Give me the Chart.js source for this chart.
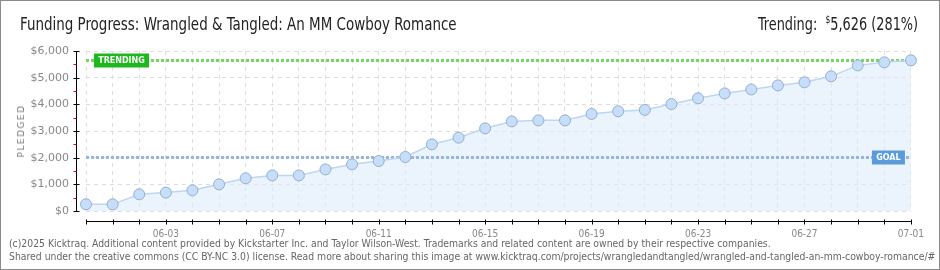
<!DOCTYPE html>
<html>
<head>
<meta charset="utf-8">
<script src="https://cdn.jsdelivr.net/npm/chart.js@4"></script>
<style>
  html, body { margin: 0; padding: 0; background: #fff; }
  #wrap { position: relative; width: 940px; height: 270px; border: 1px solid #8a8a8a; box-sizing: border-box; overflow: hidden; }
  #chart { position: absolute; left: 0; top: 0; }
  .txt { position: absolute; white-space: nowrap; }
  #title { left: 19px; top: 13px; font: 17px "DejaVu Sans Condensed", sans-serif; color: #222; transform-origin: left center; }
  #trend { right: 21px; top: 13px; font: 17px "DejaVu Sans Condensed", sans-serif; color: #222; transform-origin: right center; }
  #trend sup { font-size: 10px; }
  .foot { left: 8px; font: 11px "DejaVu Sans Condensed", sans-serif; color: #666; transform-origin: left center; }
  #pledged { left: 20px; top: 130px; transform: translate(-50%, -50%) rotate(-90deg); font: 9px "DejaVu Sans", sans-serif; letter-spacing: 1.5px; color: #777; }
</style>
</head>
<body>
<div id="wrap">
  <canvas id="chart" width="940" height="270"></canvas>
  <div class="txt" id="title" data-w="437">Funding Progress: Wrangled &amp; Tangled: An MM Cowboy Romance</div>
  <div class="txt" id="trend" data-w="160">Trending:&nbsp; <sup>$</sup>5,626 (281%)</div>
  <div class="txt" id="pledged">PLEDGED</div>
  <div class="txt foot" id="foot1" style="top:236px" data-w="762">(c)2025 Kicktraq. Additional content provided by Kickstarter Inc. and Taylor Wilson-West. Trademarks and related content are owned by their respective companies.</div>
  <div class="txt foot" id="foot2" style="top:249px">Shared under the creative commons (CC BY-NC 3.0) license. Read more about sharing this image at www.kicktraq.com/projects/wrangledandtangled/wrangled-and-tangled-an-mm-cowboy-romance/#</div>
</div>
<script>
// daily pledged totals, 05-31 .. 07-01
const dates = ["05-31", "06-01", "06-02", "06-03", "06-04", "06-05", "06-06", "06-07",
  "06-08", "06-09", "06-10", "06-11", "06-12", "06-13", "06-14", "06-15",
  "06-16", "06-17", "06-18", "06-19", "06-20", "06-21", "06-22", "06-23",
  "06-24", "06-25", "06-26", "06-27", "06-28", "06-29", "06-30", "07-01"];
const pledged = [250, 250, 625, 690, 775, 1000, 1225, 1335,
  1335, 1560, 1750, 1875, 2025, 2500, 2750, 3100,
  3360, 3400, 3400, 3640, 3740, 3790, 4010, 4225,
  4410, 4560, 4710, 4825, 5050, 5460, 5575, 5650];
const yTicks = [0, 1000, 2000, 3000, 4000, 5000, 6000];
const goal = 2000;
const trending = 5626;

// squeeze the html texts to the widths seen in the picture
document.querySelectorAll('[data-w]').forEach(el => {
  const s = +el.dataset.w / el.offsetWidth;
  el.style.transform = 'scaleX(' + s + ')';
  if (el.id === 'foot1') document.getElementById('foot2').style.transform = 'scaleX(' + s + ')';
});

const axesAndMarkers = {
  id: 'axesAndMarkers',
  beforeDatasetsDraw(chart) {
    // runs after the area fill (filler drawTime below), before line and points
    const { ctx, chartArea: a, scales: { y } } = chart;
    ctx.save();
    const dotted = (val, color) => {
      const py = Math.round(y.getPixelForValue(val)) - 0.5;
      ctx.strokeStyle = color;
      ctx.lineWidth = 3;
      ctx.setLineDash([3, 2]);
      ctx.beginPath();
      ctx.moveTo(a.left, py);
      ctx.lineTo(a.right, py);
      ctx.stroke();
      return py;
    };
    const ty = dotted(trending, '#74d85e');
    const gy = dotted(goal, '#97b6dc');
    ctx.setLineDash([]);
    const tag = (text, lx, py, w, bg) => {
      ctx.fillStyle = bg;
      ctx.fillRect(lx, py - 7, w, 14);
      ctx.fillStyle = '#fff';
      ctx.font = 'bold 8px "DejaVu Sans", sans-serif';
      ctx.textBaseline = 'middle';
      ctx.textAlign = 'center';
      ctx.fillText(text, lx + w / 2, py + 0.5);
    };
    tag('TRENDING', a.left + 8, ty, 55, '#1cb81c');
    tag('GOAL', a.right - 39, gy, 33, '#5b9bdb');
    ctx.restore();
  },
  afterDraw(chart) {
    const { ctx, chartArea: a, scales: { x, y } } = chart;
    ctx.save();
    ctx.lineWidth = 1;
    // y axis, shifted left of the plot
    const ax = a.left - 10 + 0.5;
    ctx.strokeStyle = '#000';
    ctx.beginPath();
    ctx.moveTo(ax, a.top);
    ctx.lineTo(ax, a.bottom + 1);
    ctx.stroke();
    yTicks.forEach(v => {
      const py = Math.round(y.getPixelForValue(v)) + 0.5;
      ctx.strokeStyle = '#000';
      ctx.beginPath();
      ctx.moveTo(ax - 3, py);
      ctx.lineTo(ax + 3, py);
      ctx.stroke();
      if (v < 6000) {
        const my = Math.round(y.getPixelForValue(v + 500)) + 0.5;
        ctx.strokeStyle = '#e00';
        ctx.beginPath();
        ctx.moveTo(ax - 3, my);
        ctx.lineTo(ax, my);
        ctx.stroke();
      }
    });
    // x axis, shifted below the plot
    const ay = a.bottom + 10 + 0.5;
    ctx.strokeStyle = '#000';
    ctx.beginPath();
    ctx.moveTo(a.left, ay);
    ctx.lineTo(a.right + 1, ay);
    ctx.stroke();
    dates.forEach((d, i) => {
      const px = Math.round(x.getPixelForValue(i)) + 0.5;
      ctx.beginPath();
      ctx.moveTo(px, ay - 2);
      ctx.lineTo(px, ay + 3);
      ctx.stroke();
    });
    ctx.restore();
  }
};

new Chart(document.getElementById('chart'), {
  type: 'line',
  data: {
    labels: dates,
    datasets: [{
      data: pledged,
      borderColor: '#bcd7f3',
      borderWidth: 1.5,
      backgroundColor: 'rgba(222,236,251,0.6)',
      fill: 'origin',
      tension: 0,
      pointRadius: 5.5,
      pointBackgroundColor: '#c6defa',
      pointBorderColor: '#94aecb',
      pointBorderWidth: 1
    }]
  },
  options: {
    responsive: false,
    animation: false,
    layout: { padding: { left: 0, right: 30, top: 50, bottom: 0 } },
    plugins: {
      legend: { display: false },
      tooltip: { enabled: false },
      filler: { drawTime: 'beforeDatasetsDraw' }
    },
    scales: {
      x: {
        type: 'category',
        offset: false,
        afterFit(scale) { scale.height = 60; },
        grid: { color: '#dedede', drawTicks: false },
        border: { display: false, dash: [4, 4] },
        ticks: {
          autoSkip: false,
          maxRotation: 0,
          padding: 17,
          color: '#888',
          font: { family: '"DejaVu Sans Condensed", sans-serif', size: 10 },
          callback(value, index) { return index % 4 === 3 ? dates[index] : ''; }
        }
      },
      y: {
        min: 0,
        max: 6000,
        afterFit(scale) { scale.width = 85; },
        afterBuildTicks(scale) { scale.ticks = yTicks.map(v => ({ value: v })); },
        grid: { color: '#dedede', drawTicks: false },
        border: { display: false, dash: [4, 4] },
        ticks: {
          padding: 17,
          color: '#888',
          font: { family: '"DejaVu Sans", sans-serif', size: 11 },
          callback(v) { return '$' + v.toLocaleString('en-US'); }
        }
      }
    }
  },
  plugins: [axesAndMarkers]
});
</script>
</body>
</html>
